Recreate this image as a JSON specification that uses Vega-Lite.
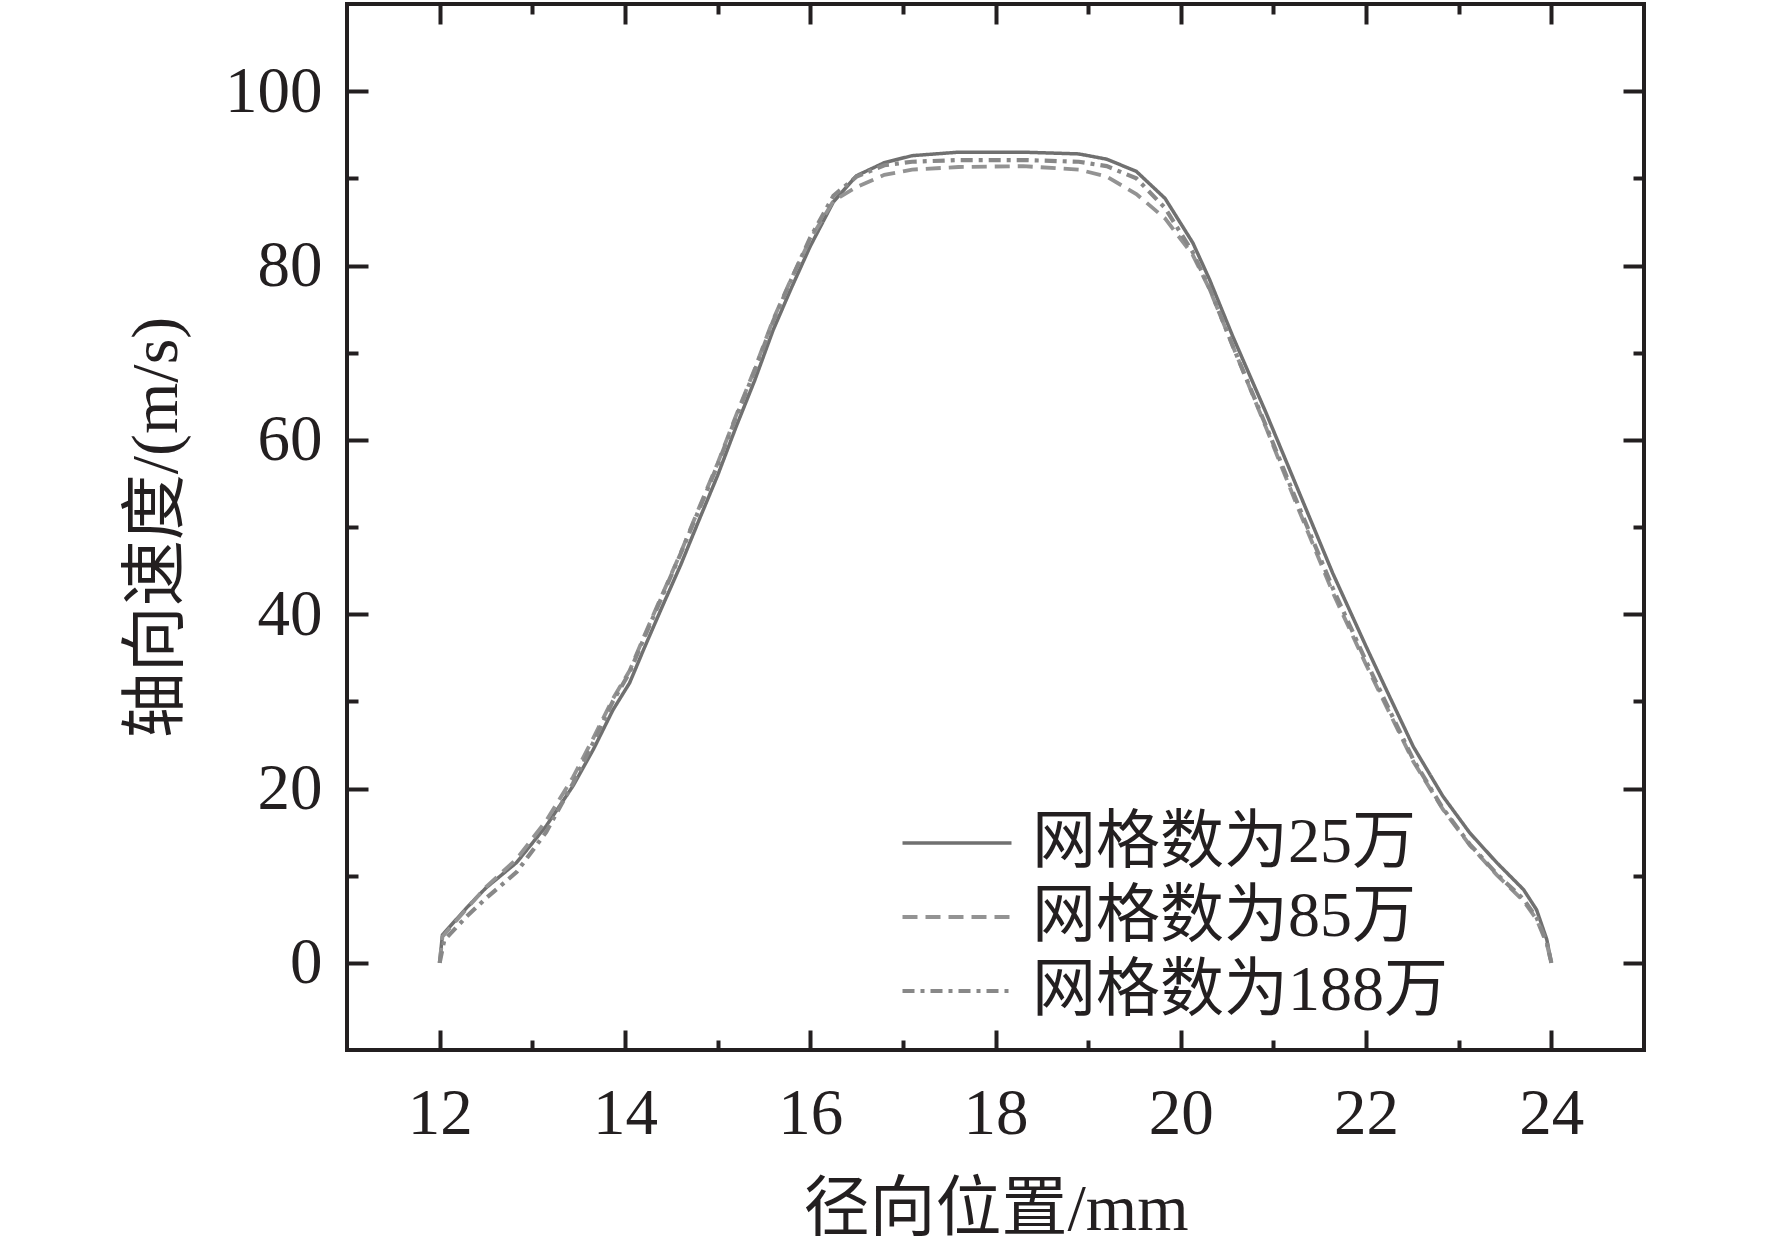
{
  "$schema": "https://vega.github.io/schema/vega-lite/v6.json",
  "width": 1297,
  "height": 1046,
  "autosize": {"type": "none"},
  "padding": {"left": 347, "top": 4, "right": 128, "bottom": 202},
  "background": "white",
  "config": {
    "view": {"stroke": "#231f20", "strokeWidth": 4},
    "axis": {
      "domain": false,
      "grid": false,
      "tickColor": "#231f20",
      "tickWidth": 4,
      "labelFont": "Liberation Serif",
      "labelFontSize": 65,
      "labelColor": "#231f20",
      "titleFont": "Liberation Serif, Noto Sans CJK SC",
      "titleFontSize": 66,
      "titleFontWeight": "normal",
      "titleColor": "#231f20"
    },
    "legend": {
      "labelFont": "Liberation Serif, Noto Sans CJK SC",
      "labelFontSize": 64,
      "labelColor": "#231f20",
      "labelLimit": 0,
      "symbolType": "M-2,0H2",
      "symbolSize": 2970,
      "symbolStrokeWidth": 3.8,
      "labelOffset": 43,
      "rowPadding": 10,
      "padding": 0
    }
  },
  "data": {
    "values": [
      {"x": 12.00, "v": 0.0, "s": "网格数为25万"},
      {"x": 12.03, "v": 3.2, "s": "网格数为25万"},
      {"x": 12.29, "v": 6.3, "s": "网格数为25万"},
      {"x": 12.50, "v": 8.6, "s": "网格数为25万"},
      {"x": 12.83, "v": 11.5, "s": "网格数为25万"},
      {"x": 13.15, "v": 15.7, "s": "网格数为25万"},
      {"x": 13.44, "v": 20.3, "s": "网格数为25万"},
      {"x": 13.66, "v": 24.5, "s": "网格数为25万"},
      {"x": 13.87, "v": 29.0, "s": "网格数为25万"},
      {"x": 14.05, "v": 32.1, "s": "网格数为25万"},
      {"x": 14.20, "v": 35.9, "s": "网格数为25万"},
      {"x": 14.40, "v": 40.8, "s": "网格数为25万"},
      {"x": 14.60, "v": 45.6, "s": "网格数为25万"},
      {"x": 14.80, "v": 50.8, "s": "网格数为25万"},
      {"x": 15.00, "v": 55.9, "s": "网格数为25万"},
      {"x": 15.20, "v": 61.5, "s": "网格数为25万"},
      {"x": 15.40, "v": 66.8, "s": "网格数为25万"},
      {"x": 15.60, "v": 72.6, "s": "网格数为25万"},
      {"x": 15.80, "v": 77.5, "s": "网格数为25万"},
      {"x": 16.00, "v": 82.2, "s": "网格数为25万"},
      {"x": 16.25, "v": 87.3, "s": "网格数为25万"},
      {"x": 16.50, "v": 90.3, "s": "网格数为25万"},
      {"x": 16.80, "v": 91.8, "s": "网格数为25万"},
      {"x": 17.10, "v": 92.6, "s": "网格数为25万"},
      {"x": 17.60, "v": 93.0, "s": "网格数为25万"},
      {"x": 18.30, "v": 93.0, "s": "网格数为25万"},
      {"x": 18.90, "v": 92.8, "s": "网格数为25万"},
      {"x": 19.20, "v": 92.2, "s": "网格数为25万"},
      {"x": 19.52, "v": 90.8, "s": "网格数为25万"},
      {"x": 19.83, "v": 87.7, "s": "网格数为25万"},
      {"x": 20.13, "v": 82.6, "s": "网格数为25万"},
      {"x": 20.31, "v": 78.4, "s": "网格数为25万"},
      {"x": 20.56, "v": 71.9, "s": "网格数为25万"},
      {"x": 20.92, "v": 63.1, "s": "网格数为25万"},
      {"x": 21.28, "v": 53.9, "s": "网格数为25万"},
      {"x": 21.64, "v": 44.7, "s": "网格数为25万"},
      {"x": 22.00, "v": 36.3, "s": "网格数为25万"},
      {"x": 22.22, "v": 31.3, "s": "网格数为25万"},
      {"x": 22.51, "v": 24.8, "s": "网格数为25万"},
      {"x": 22.83, "v": 19.1, "s": "网格数为25万"},
      {"x": 23.12, "v": 14.9, "s": "网格数为25万"},
      {"x": 23.41, "v": 11.5, "s": "网格数为25万"},
      {"x": 23.70, "v": 8.4, "s": "网格数为25万"},
      {"x": 23.84, "v": 6.1, "s": "网格数为25万"},
      {"x": 23.95, "v": 2.7, "s": "网格数为25万"},
      {"x": 24.00, "v": 0.0, "s": "网格数为25万"},

      {"x": 12.00, "v": 0.0, "s": "网格数为85万"},
      {"x": 12.03, "v": 3.0, "s": "网格数为85万"},
      {"x": 12.29, "v": 6.2, "s": "网格数为85万"},
      {"x": 12.50, "v": 8.7, "s": "网格数为85万"},
      {"x": 12.83, "v": 11.9, "s": "网格数为85万"},
      {"x": 13.15, "v": 16.3, "s": "网格数为85万"},
      {"x": 13.44, "v": 21.3, "s": "网格数为85万"},
      {"x": 13.66, "v": 25.8, "s": "网格数为85万"},
      {"x": 13.87, "v": 30.3, "s": "网格数为85万"},
      {"x": 14.05, "v": 33.5, "s": "网格数为85万"},
      {"x": 14.20, "v": 37.3, "s": "网格数为85万"},
      {"x": 14.40, "v": 42.2, "s": "网格数为85万"},
      {"x": 14.60, "v": 47.0, "s": "网格数为85万"},
      {"x": 14.80, "v": 52.2, "s": "网格数为85万"},
      {"x": 15.00, "v": 57.3, "s": "网格数为85万"},
      {"x": 15.20, "v": 62.8, "s": "网格数为85万"},
      {"x": 15.40, "v": 68.1, "s": "网格数为85万"},
      {"x": 15.60, "v": 73.8, "s": "网格数为85万"},
      {"x": 15.80, "v": 78.6, "s": "网格数为85万"},
      {"x": 16.00, "v": 83.0, "s": "网格数为85万"},
      {"x": 16.25, "v": 87.4, "s": "网格数为85万"},
      {"x": 16.50, "v": 89.0, "s": "网格数为85万"},
      {"x": 16.80, "v": 90.4, "s": "网格数为85万"},
      {"x": 17.10, "v": 91.0, "s": "网格数为85万"},
      {"x": 17.60, "v": 91.3, "s": "网格数为85万"},
      {"x": 18.30, "v": 91.4, "s": "网格数为85万"},
      {"x": 18.90, "v": 91.0, "s": "网格数为85万"},
      {"x": 19.20, "v": 90.2, "s": "网格数为85万"},
      {"x": 19.52, "v": 88.2, "s": "网格数为85万"},
      {"x": 19.83, "v": 85.4, "s": "网格数为85万"},
      {"x": 20.13, "v": 81.2, "s": "网格数为85万"},
      {"x": 20.31, "v": 77.3, "s": "网格数为85万"},
      {"x": 20.56, "v": 70.8, "s": "网格数为85万"},
      {"x": 20.92, "v": 61.4, "s": "网格数为85万"},
      {"x": 21.28, "v": 51.8, "s": "网格数为85万"},
      {"x": 21.64, "v": 42.5, "s": "网格数为85万"},
      {"x": 22.00, "v": 34.2, "s": "网格数为85万"},
      {"x": 22.22, "v": 29.4, "s": "网格数为85万"},
      {"x": 22.51, "v": 23.1, "s": "网格数为85万"},
      {"x": 22.83, "v": 17.6, "s": "网格数为85万"},
      {"x": 23.12, "v": 13.5, "s": "网格数为85万"},
      {"x": 23.41, "v": 10.1, "s": "网格数为85万"},
      {"x": 23.70, "v": 7.1, "s": "网格数为85万"},
      {"x": 23.84, "v": 5.0, "s": "网格数为85万"},
      {"x": 23.95, "v": 2.2, "s": "网格数为85万"},
      {"x": 24.00, "v": 0.0, "s": "网格数为85万"},

      {"x": 12.00, "v": 0.0, "s": "网格数为188万"},
      {"x": 12.05, "v": 2.6, "s": "网格数为188万"},
      {"x": 12.29, "v": 5.3, "s": "网格数为188万"},
      {"x": 12.50, "v": 7.4, "s": "网格数为188万"},
      {"x": 12.83, "v": 10.4, "s": "网格数为188万"},
      {"x": 13.15, "v": 15.0, "s": "网格数为188万"},
      {"x": 13.44, "v": 20.6, "s": "网格数为188万"},
      {"x": 13.66, "v": 25.3, "s": "网格数为188万"},
      {"x": 13.87, "v": 30.0, "s": "网格数为188万"},
      {"x": 14.05, "v": 33.3, "s": "网格数为188万"},
      {"x": 14.20, "v": 37.1, "s": "网格数为188万"},
      {"x": 14.40, "v": 42.0, "s": "网格数为188万"},
      {"x": 14.60, "v": 46.9, "s": "网格数为188万"},
      {"x": 14.80, "v": 52.0, "s": "网格数为188万"},
      {"x": 15.00, "v": 57.1, "s": "网格数为188万"},
      {"x": 15.20, "v": 62.6, "s": "网格数为188万"},
      {"x": 15.40, "v": 67.9, "s": "网格数为188万"},
      {"x": 15.60, "v": 73.6, "s": "网格数为188万"},
      {"x": 15.80, "v": 78.5, "s": "网格数为188万"},
      {"x": 16.00, "v": 83.2, "s": "网格数为188万"},
      {"x": 16.25, "v": 88.0, "s": "网格数为188万"},
      {"x": 16.50, "v": 90.2, "s": "网格数为188万"},
      {"x": 16.80, "v": 91.5, "s": "网格数为188万"},
      {"x": 17.10, "v": 91.9, "s": "网格数为188万"},
      {"x": 17.60, "v": 92.1, "s": "网格数为188万"},
      {"x": 18.30, "v": 92.1, "s": "网格数为188万"},
      {"x": 18.90, "v": 91.9, "s": "网格数为188万"},
      {"x": 19.20, "v": 91.4, "s": "网格数为188万"},
      {"x": 19.52, "v": 90.0, "s": "网格数为188万"},
      {"x": 19.83, "v": 86.6, "s": "网格数为188万"},
      {"x": 20.13, "v": 81.5, "s": "网格数为188万"},
      {"x": 20.31, "v": 77.4, "s": "网格数为188万"},
      {"x": 20.56, "v": 70.8, "s": "网格数为188万"},
      {"x": 20.92, "v": 61.6, "s": "网格数为188万"},
      {"x": 21.28, "v": 52.2, "s": "网格数为188万"},
      {"x": 21.64, "v": 43.0, "s": "网格数为188万"},
      {"x": 22.00, "v": 34.6, "s": "网格数为188万"},
      {"x": 22.22, "v": 29.7, "s": "网格数为188万"},
      {"x": 22.51, "v": 23.3, "s": "网格数为188万"},
      {"x": 22.83, "v": 17.7, "s": "网格数为188万"},
      {"x": 23.12, "v": 13.6, "s": "网格数为188万"},
      {"x": 23.41, "v": 10.2, "s": "网格数为188万"},
      {"x": 23.70, "v": 7.3, "s": "网格数为188万"},
      {"x": 23.84, "v": 5.2, "s": "网格数为188万"},
      {"x": 23.95, "v": 2.4, "s": "网格数为188万"},
      {"x": 24.00, "v": 0.0, "s": "网格数为188万"}
    ]
  },
  "layer": [
    {
      "mark": {"type": "line", "clip": true},
      "encoding": {
        "x": {
          "field": "x", "type": "quantitative",
          "scale": {"domain": [11, 25], "nice": false, "zero": false},
          "axis": {"orient": "bottom", "values": [12, 14, 16, 18, 20, 22, 24], "tickSize": -20, "labelPadding": 52, "title": "径向位置/mm", "titlePadding": 31}
        },
        "y": {
          "field": "v", "type": "quantitative",
          "scale": {"domain": [-10, 110], "nice": false, "zero": false},
          "axis": {"orient": "left", "values": [0, 20, 40, 60, 80, 100], "tickSize": -21, "labelPadding": 46, "title": "轴向速度/(m/s)", "titlePadding": 34}
        },
        "color": {
          "field": "s", "type": "nominal",
          "scale": {"domain": ["网格数为25万", "网格数为85万", "网格数为188万"], "range": ["#707070", "#939393", "#888888"]},
          "legend": {"title": null, "orient": "none", "legendX": 578, "legendY": 807}
        },
        "strokeDash": {
          "field": "s", "type": "nominal",
          "scale": {"domain": ["网格数为25万", "网格数为85万", "网格数为188万"], "range": [[1, 0], [15, 8], [12, 6, 4, 6]]},
          "legend": {"title": null, "orient": "none", "legendX": 578, "legendY": 807}
        },
        "strokeWidth": {
          "field": "s", "type": "nominal",
          "scale": {"domain": ["网格数为25万", "网格数为85万", "网格数为188万"], "range": [3.5, 4.2, 4.2]},
          "legend": null
        }
      }
    },
    {
      "mark": {"type": "point", "opacity": 0},
      "encoding": {
        "x": {"field": "x", "type": "quantitative", "axis": {"orient": "bottom", "values": [13, 15, 17, 19, 21, 23], "tickSize": -10, "labels": false, "title": null}},
        "y": {"field": "v", "type": "quantitative", "axis": {"orient": "left", "values": [10, 30, 50, 70, 90], "tickSize": -11, "labels": false, "title": null}}
      }
    },
    {
      "mark": {"type": "point", "opacity": 0},
      "encoding": {
        "x": {"field": "x", "type": "quantitative", "axis": {"orient": "top", "values": [12, 14, 16, 18, 20, 22, 24], "tickSize": -20, "labels": false, "title": null}},
        "y": {"field": "v", "type": "quantitative", "axis": {"orient": "right", "values": [0, 20, 40, 60, 80, 100], "tickSize": -21, "labels": false, "title": null}}
      }
    },
    {
      "mark": {"type": "point", "opacity": 0},
      "encoding": {
        "x": {"field": "x", "type": "quantitative", "axis": {"orient": "top", "values": [13, 15, 17, 19, 21, 23], "tickSize": -10, "labels": false, "title": null}},
        "y": {"field": "v", "type": "quantitative", "axis": {"orient": "right", "values": [10, 30, 50, 70, 90], "tickSize": -11, "labels": false, "title": null}}
      }
    }
  ],
  "resolve": {"axis": {"x": "independent", "y": "independent"}}
}
